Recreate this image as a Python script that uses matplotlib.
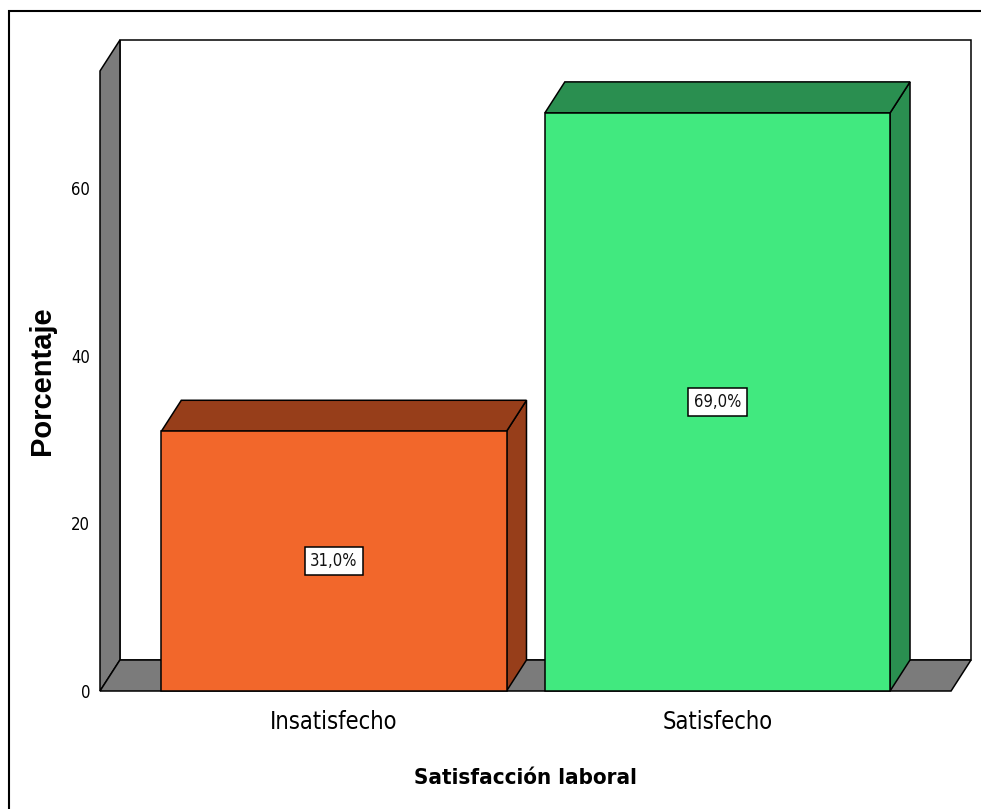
import matplotlib
matplotlib.use("Agg")
import matplotlib.pyplot as plt
from matplotlib.patches import Polygon, Rectangle

# Data
categories = ["Insatisfecho", "Satisfecho"]
percentages = [31.0, 69.0]
yticks = [0, 20, 40, 60]
front_colors = ["#F2672B", "#41E97F"]
shade_colors = ["#973E1A", "#2A8F50"]

NARROW = dict(family=["DejaVu Sans"], stretch="condensed")
WIDE = dict(family=["Liberation Sans", "DejaVu Sans"])

W, H = 981, 809
fig = plt.figure(figsize=(W / 100, H / 100), dpi=100)
fig.patch.set_facecolor("white")

# outer frame
fig.patches.append(Rectangle((9 / W, -0.05), 1.2, 798 / H + 0.05,
                             transform=fig.transFigure, fill=False,
                             edgecolor="black", linewidth=1.5))

# plot region (front plane + depth)
left_px, right_px, bottom_px, top_px = 100, 971, 691, 40
ax = fig.add_axes([left_px / W, (H - bottom_px) / H,
                   (right_px - left_px) / W, (bottom_px - top_px) / H])
ax.set_xlim(-0.61, 1.661)
ax.set_ylim(0, 77.7)
for s in ax.spines.values():
    s.set_visible(False)
ax.patch.set_alpha(0)

# depth offsets (data units) and wall extents
ddx, ddy = 0.052, 3.7
x0, x1 = -0.61, 1.609
wall_top = 74.0
bar_width = 0.9
edge = dict(edgecolor="black", linewidth=1.1, joinstyle="miter", clip_on=False)

# back wall
ax.add_patch(Polygon([(x0 + ddx, ddy), (x1 + ddx, ddy), (x1 + ddx, wall_top + ddy),
                      (x0 + ddx, wall_top + ddy)], closed=True, facecolor="white", **edge))
# left wall
ax.add_patch(Polygon([(x0, 0), (x0 + ddx, ddy), (x0 + ddx, wall_top + ddy), (x0, wall_top)],
                     closed=True, facecolor="#7B7B7B", **edge))
# floor
ax.add_patch(Polygon([(x0, 0), (x1, 0), (x1 + ddx, ddy), (x0 + ddx, ddy)],
                     closed=True, facecolor="#7B7B7B", **edge))

# bars
for i, (val, fc, sc) in enumerate(zip(percentages, front_colors, shade_colors)):
    l, r = i - bar_width / 2, i + bar_width / 2
    ax.add_patch(Polygon([(r, 0), (r + ddx, ddy), (r + ddx, val + ddy), (r, val)],
                         closed=True, facecolor=sc, **edge))
    ax.add_patch(Polygon([(l, val), (r, val), (r + ddx, val + ddy), (l + ddx, val + ddy)],
                         closed=True, facecolor=sc, **edge))
    ax.add_patch(Polygon([(l, 0), (r, 0), (r, val), (l, val)],
                         closed=True, facecolor=fc, **edge))
    ax.text(i, val / 2, f"{val:.1f}%".replace(".", ","), ha="center", va="center",
            fontsize=12, color="#111111", **NARROW,
            bbox=dict(boxstyle="square,pad=0.32", facecolor="white",
                      edgecolor="black", linewidth=1.1))

ax.set_yticks(yticks)
ax.set_yticklabels([str(t) for t in yticks], fontsize=12, **NARROW)
ax.set_xticks(range(len(categories)))
ax.set_xticklabels(categories, fontsize=17, **NARROW)
ax.tick_params(axis="y", length=0, pad=7)
ax.tick_params(axis="x", length=0, pad=14)

ax.set_xlabel("Satisfacción laboral", fontweight="bold", fontsize=16,
              va="center", ha="center", **NARROW)
ax.xaxis.set_label_coords((525.5 - left_px) / (right_px - left_px),
                          (bottom_px - 778) / (bottom_px - top_px))
ax.set_ylabel("Porcentaje", fontweight="bold", fontsize=21,
              va="center", ha="center", **WIDE)
ax.yaxis.set_label_coords((42 - left_px) / (right_px - left_px),
                          (bottom_px - 380.5) / (bottom_px - top_px))

fig.savefig("out.png", dpi=100)
